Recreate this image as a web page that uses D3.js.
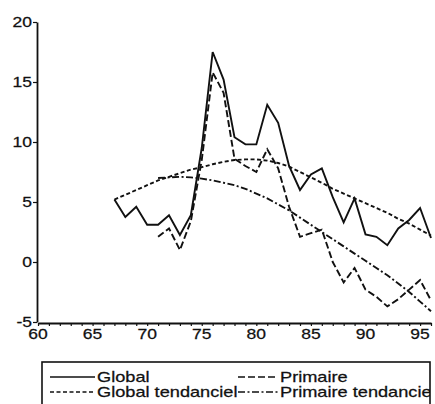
<!DOCTYPE html>
<html>
<head>
<meta charset="utf-8">
<script src="https://cdn.jsdelivr.net/npm/d3@7"></script>
<style>
  body { margin: 0; background: #fff; }
  svg { display: block; }
</style>
</head>
<body>
<script>
const width = 435;
const height = 404;

// years and values
const globalYears = [67, 68, 69, 70, 71, 72, 73, 74, 75, 76, 77, 78, 79, 80, 81,
  82, 83, 84, 85, 86, 87, 88, 89, 90, 91, 92, 93, 94, 95, 96];
const globalValues = [5.2, 3.75, 4.6, 3.1, 3.1, 3.9, 2.25, 3.9, 9.5, 17.5, 15.2, 10.4, 9.8, 9.8, 13.1,
  11.6, 8.0, 6.0, 7.3, 7.8, 5.4, 3.3, 5.3, 2.3, 2.1, 1.4, 2.8, 3.5, 4.5, 2.0];
const globalTrend = [5.2, 5.6, 6.0, 6.4, 6.8, 7.1, 7.4, 7.7, 7.9, 8.15, 8.35, 8.5, 8.55, 8.55, 8.45,
  8.25, 7.95, 7.5, 7.05, 6.6, 6.1, 5.7, 5.3, 4.9, 4.5, 4.1, 3.6, 3.2, 2.7, 2.2];

const primaireYears = [71, 72, 73, 74, 75, 76, 77, 78, 79, 80, 81, 82, 83,
  84, 85, 86, 87, 88, 89, 90, 91, 92, 93, 94, 95, 96];
const primaireValues = [2.1, 2.8, 1.0, 3.4, 8.5, 15.8, 14.1, 8.6, 8.0, 7.5, 9.4, 7.8, 4.6,
  2.1, 2.4, 2.7, 0.0, -1.7, -0.5, -2.3, -2.9, -3.7, -3.1, -2.3, -1.5, -3.2];
const primaireTrend = [7.0, 7.05, 7.1, 7.05, 6.95, 6.8, 6.6, 6.4, 6.1, 5.7, 5.3, 4.8, 4.3,
  3.7, 3.1, 2.5, 1.9, 1.3, 0.7, 0.1, -0.5, -1.1, -1.8, -2.5, -3.3, -4.1];

const xTickLabels = [60, 65, 70, 75, 80, 85, 90, 95];
const yTickLabels = [-5, 0, 5, 10, 15, 20];
const seriesNames = ['Global', 'Primaire', 'Global tendanciel', 'Primaire tendanciel'];

const svg = d3.select('body')
  .append('svg')
  .attr('width', width)
  .attr('height', height)
  .attr('viewBox', `0 0 ${width} ${height}`);

const x = d3.scaleLinear().domain([60, 96]).range([38, 431]);
const y = d3.scaleLinear().domain([-5, 20]).range([322, 22]);

const font = 'Liberation Sans, Arial, sans-serif';
const ink = '#111';

// the scanned type is wide, so stretch text sideways a bit
function label(g, tx, ty, txt, anchor, size, sx) {
  return g.append('text')
    .attr('transform', `translate(${tx},${ty}) scale(${sx || 1.25},1)`)
    .attr('text-anchor', anchor)
    .style('font-family', font)
    .style('font-size', (size || 14) + 'px')
    .attr('fill', ink)
    .attr('stroke', ink)
    .attr('stroke-width', 0.25)
    .text(txt);
}

// x axis: a tick every year, labels every 5
const xAxis = svg.append('g')
  .attr('transform', `translate(0,${y(-5) + 1})`)
  .call(d3.axisBottom(x)
    .tickValues(d3.range(60, 97))
    .tickSize(3)
    .tickSizeOuter(0)
    .tickFormat(''));
xAxis.select('.domain').attr('stroke', ink).attr('stroke-width', 1.8);
xAxis.selectAll('.tick line').attr('stroke', ink).attr('stroke-width', 1.2);

xTickLabels.forEach((v) => label(svg, x(v), 339, v, 'middle'));

// y axis
const yAxis = svg.append('g')
  .attr('transform', `translate(${x(60) - 1},0)`)
  .call(d3.axisLeft(y)
    .tickValues(yTickLabels)
    .tickSize(4)
    .tickSizeOuter(0)
    .tickFormat(''));
yAxis.select('.domain').attr('stroke', ink).attr('stroke-width', 1.8);
yAxis.selectAll('.tick line').attr('stroke', ink).attr('stroke-width', 1.2);

yTickLabels.forEach((v) => label(svg, 32, y(v) + 5, v, 'end'));

// series
const series = [
  { name: seriesNames[0], years: globalYears, values: globalValues, dash: null },
  { name: seriesNames[1], years: primaireYears, values: primaireValues, dash: '7,3' },
  { name: seriesNames[2], years: globalYears, values: globalTrend, dash: '4,2.5' },
  { name: seriesNames[3], years: primaireYears, values: primaireTrend, dash: '7,2.5,2,2.5' },
];

const line = d3.line()
  .x((d) => x(d[0]))
  .y((d) => y(d[1]));

series.forEach((s) => {
  svg.append('path')
    .datum(s.years.map((yr, i) => [yr, s.values[i]]))
    .attr('d', line)
    .attr('fill', 'none')
    .attr('stroke', ink)
    .attr('stroke-width', 1.9)
    .attr('stroke-linejoin', 'miter')
    .attr('stroke-dasharray', s.dash);
});

// legend
svg.append('clipPath')
  .attr('id', 'legend-clip')
  .append('rect')
  .attr('x', 42)
  .attr('y', 362)
  .attr('width', 388)
  .attr('height', 60);

const legend = svg.append('g');
const legendInner = legend.append('g').attr('clip-path', 'url(#legend-clip)');

const cols = [{ x1: 50, x2: 95, tx: 97 }, { x1: 238, x2: 278, tx: 280 }];
series.forEach((s, i) => {
  const c = cols[i % 2];
  const ry = 377 + Math.floor(i / 2) * 15;
  legendInner.append('line')
    .attr('x1', c.x1)
    .attr('x2', c.x2)
    .attr('y1', ry)
    .attr('y2', ry)
    .attr('stroke', ink)
    .attr('stroke-width', 1.6)
    .attr('stroke-dasharray', s.dash);
  label(legendInner, c.tx, ry + 5, s.name, 'start', 14, 1.3);
});

legend.append('rect')
  .attr('x', 42)
  .attr('y', 362)
  .attr('width', 388)
  .attr('height', 60)
  .attr('fill', 'none')
  .attr('stroke', ink)
  .attr('stroke-width', 1.6);
</script>
</body>
</html>
